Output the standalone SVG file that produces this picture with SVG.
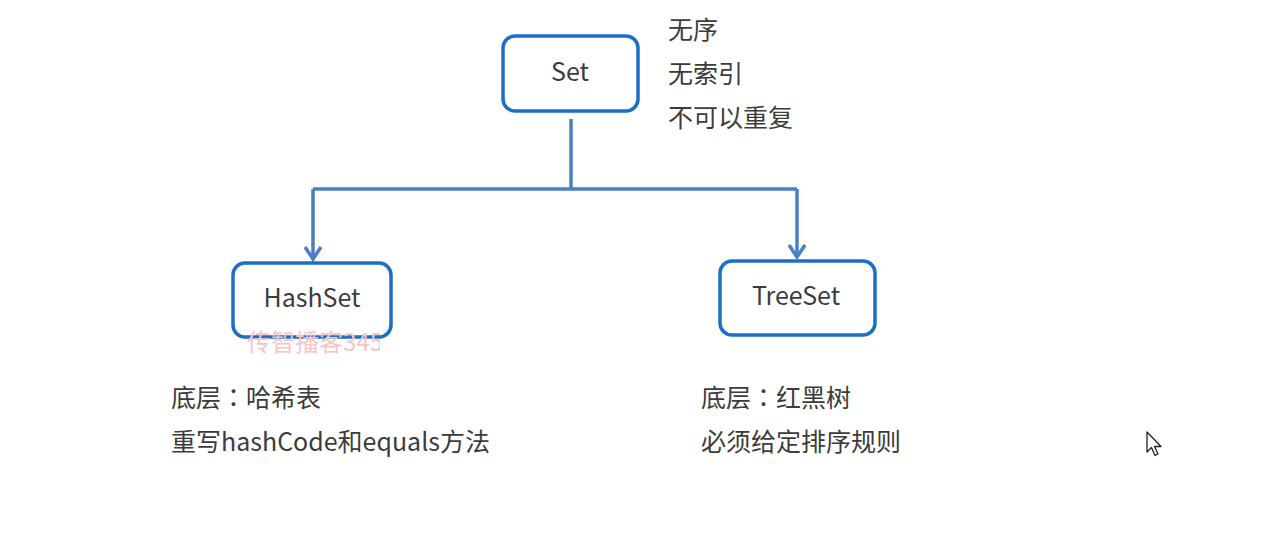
<svg xmlns="http://www.w3.org/2000/svg" width="1286" height="560" viewBox="0 0 1286 560">
<defs>
<style>
.box{fill:#fff;stroke:#1a6fc7;stroke-width:3.5}
.lbl{font-family:"Noto Sans CJK SC","Noto Sans",sans-serif;font-size:25px;fill:#3c3c3c}
.colon{font-family:"Noto Sans CJK TC","Noto Sans CJK JP",sans-serif}
.ctr{text-anchor:middle}
.conn{fill:none;stroke:#4a7fc1;stroke-width:3.5}
.wm{font-family:"Noto Sans CJK SC",sans-serif;font-size:24px;fill:#f8c4c4}
</style>
<marker id="arr" viewBox="0 0 20 20" refX="16" refY="10" markerWidth="20" markerHeight="20" markerUnits="userSpaceOnUse" orient="auto">
<path d="M4,2 L16,10 L4,18" fill="none" stroke="#4a7fc1" stroke-width="3.5"/>
</marker>
<clipPath id="wmclip"><rect x="0" y="0" width="380" height="560"/></clipPath>
</defs>
<rect width="1286" height="560" fill="#fff"/>
<g id="connectors">
<path class="conn" d="M571,119 V189"/>
<path class="conn" d="M313,189 H797"/>
<path class="conn" d="M313,189 V259" marker-end="url(#arr)"/>
<path class="conn" d="M797,189 V257" marker-end="url(#arr)"/>
</g>
<g id="set">
<rect class="box" x="503" y="36" width="135" height="75" rx="12"/>
<text class="lbl ctr" x="570" y="81">Set</text>
</g>
<g id="hashset">
<rect class="box" x="233" y="263" width="158" height="74" rx="12"/>
<text class="lbl ctr" x="312" y="307">HashSet</text>
</g>
<g id="treeset">
<rect class="box" x="720" y="261" width="155" height="74" rx="12"/>
<text class="lbl ctr" x="796" y="305">TreeSet</text>
</g>
<g id="set-notes">
<text class="lbl" x="668" y="39">无序</text>
<text class="lbl" x="668" y="83">无索引</text>
<text class="lbl" x="668" y="127">不可以重复</text>
</g>
<g id="hashset-notes">
<text class="lbl" x="171" y="407">底层<tspan class="colon">：</tspan>哈希表</text>
<text class="lbl" x="171" y="451">重写hashCode和equals方法</text>
</g>
<g id="treeset-notes">
<text class="lbl" x="701" y="407">底层<tspan class="colon">：</tspan>红黑树</text>
<text class="lbl" x="701" y="451">必须给定排序规则</text>
</g>
<g id="watermark" clip-path="url(#wmclip)">
<text class="wm" x="247" y="351">传智播客345</text>
</g>
<g id="cursor">
<path d="M1147,432 V452 L1151.5,447.5 L1155,455.5 L1158,454 L1154.5,446.5 L1161,446.5 Z" fill="#fff" stroke="#222" stroke-width="1.3" stroke-linejoin="round"/>
</g>
</svg>
